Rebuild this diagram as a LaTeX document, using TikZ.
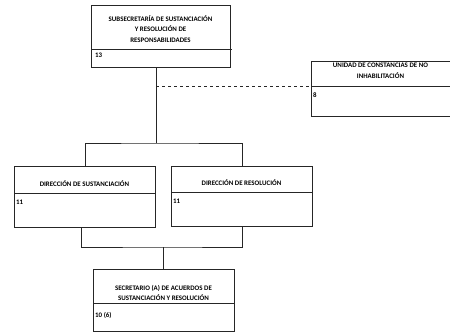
\documentclass[tikz,border=0pt]{standalone}
\usepackage{fontspec}
\setmainfont{Carlito}
\begin{document}
\begin{tikzpicture}[x=1pt,y=-1pt,
  box/.style={draw=black!85,line width=1pt,rectangle,anchor=north west,inner sep=0pt},
  title/.style={font=\bfseries\fontsize{6.9}{10.5}\selectfont,align=center,inner sep=0pt},
  num/.style={font=\bfseries\fontsize{6.9}{8}\selectfont,anchor=west,inner sep=0pt},
  line/.style={draw=black!85,line width=1pt}]
\useasboundingbox (0,0) rectangle (450,332);

% subsecretaria
\node[box,minimum width=139pt,minimum height=62pt] (sub) at (91,5) {};
\draw[line] (91,49) -- (232,49);
\node[title] (subt) at (160.5,29) {SUBSECRETARÍA DE SUSTANCIACIÓN\\Y RESOLUCIÓN DE\\RESPONSABILIDADES};
\node[num] (subn) at (95,55) {13};

% unidad de constancias
\node[box,minimum width=142pt,minimum height=55pt] (uc) at (311,61) {};
\draw[line] (311,86) -- (452,86);
\node[title] (uct) at (380.5,71) {UNIDAD DE CONSTANCIAS DE NO\\INHABILITACIÓN};
\node[num] (ucn) at (313,95) {8};

% direcciones
\node[box,minimum width=141pt,minimum height=61pt] (ds) at (14,166) {};
\draw[line] (14,193) -- (155,193);
\node[title] (dst) at (84.5,184) {DIRECCIÓN DE SUSTANCIACIÓN};
\node[num] (dsn) at (16,202) {11};

\node[box,minimum width=141pt,minimum height=60pt] (dr) at (171,166) {};
\draw[line] (171,192) -- (312,192);
\node[title] (drt) at (241.5,183) {DIRECCIÓN DE RESOLUCIÓN};
\node[num] (drn) at (173,201) {11};

% secretario
\node[box,minimum width=141pt,minimum height=62pt] (sec) at (93,269) {};
\draw[line] (93,303) -- (234,303);
\node[title] (sect) at (163.5,293) {SECRETARIO (A) DE ACUERDOS DE\\SUSTANCIACIÓN Y RESOLUCIÓN};
\node[num] (secn) at (95,315) {10 (6)};

% lineas
\coordinate (dj) at (156,86);
\coordinate (bus) at (156,143);
\draw[line] (sub.south -| dj) -- (bus);
\draw[line,dashed] (dj) -- (dj -| uc.west);
\draw[line] (ds.north) |- (bus) -| (dr.north);

\coordinate (l1) at (81,227);
\coordinate (l2) at (242,226);
\coordinate (low) at (163,247);
\draw[line] (l1) |- (low) -| (l2);
\draw[line] (low) -- (low |- sec.north);
\end{tikzpicture}
\end{document}
